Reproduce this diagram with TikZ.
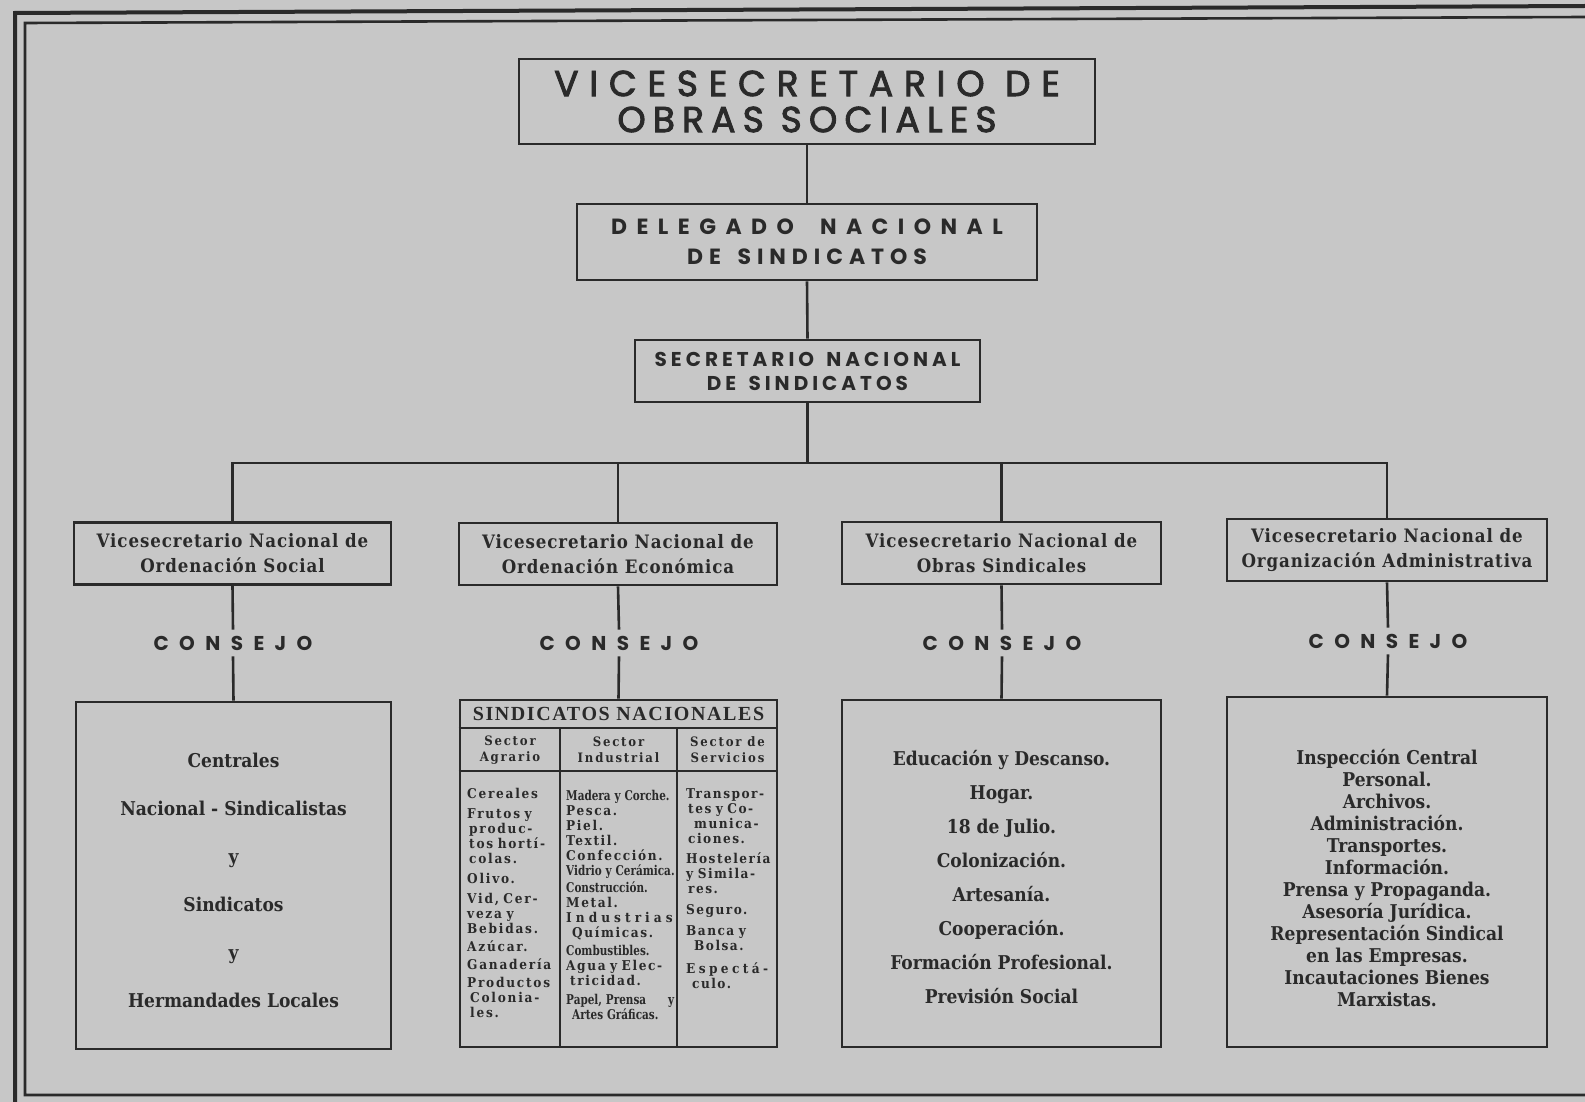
\documentclass[tikz,border=0pt]{standalone}
\usepackage{fontspec}
\usepackage{graphicx}
\newfontfamily\capfont{Poppins}
\newfontfamily\bodyfont{DejaVu Serif Condensed}
\newfontfamily\romfont{Liberation Serif}
\definecolor{paper}{RGB}{199,199,199}
\definecolor{ink}{RGB}{42,42,42}
\newcommand\spread[1]{\makebox[\linewidth][s]{#1}}
\newcommand\cond[1]{\scalebox{0.86}[1]{\addfontfeature{LetterSpace=0}#1}}
\tikzset{
  box/.style={draw=ink, line width=2.6pt, inner sep=0pt, text=ink, align=center},
  link/.style={draw=ink, line width=2.6pt},
  capA/.style={font={\capfont\addfontfeature{FakeBold=2.5}\fontsize{36}{36}\selectfont}},
  capB/.style={font={\capfont\bfseries\addfontfeature{LetterSpace=27}\fontsize{22}{30}\selectfont}},
  capC/.style={font={\capfont\bfseries\addfontfeature{LetterSpace=20}\fontsize{20}{24}\selectfont}},
  consejo/.style={text=ink, inner sep=6pt, font={\capfont\bfseries\addfontfeature{LetterSpace=52}\fontsize{20}{20}\selectfont}},
  lvl/.style={box, minimum height=62, font={\bodyfont\bfseries\addfontfeature{LetterSpace=5}\fontsize{18.5}{25}\selectfont}},
  bigtext/.style={text=ink, inner sep=0pt, align=center, font={\bodyfont\bfseries\fontsize{19}{#1}\selectfont}},
  head/.style={text=ink, inner sep=0pt, align=center, font={\bodyfont\bfseries\addfontfeature{LetterSpace=14}\fontsize{13}{16}\selectfont}},
  coltext/.style={text=ink, inner sep=0pt, align=left, anchor=north west, font={\bodyfont\bfseries\addfontfeature{LetterSpace=#1}\fontsize{13.5}{15}\selectfont}},
  rule/.style={draw=ink, line width=2.2pt}
}
\begin{document}
\begin{tikzpicture}[x=1pt, y=-1pt]
\fill[paper] (0,0) rectangle (1585,1102);
\useasboundingbox (0,0) rectangle (1585,1102);
% frame
\draw[ink, line width=4pt] (15,1102) -- (15,13) -- (1585,6);
\draw[ink, line width=2.6pt] (1585,1095) -- (25,1095) -- (25,23) -- (1585,17);

% top levels
\node[box, minimum width=576, minimum height=85, capA] (vice) at (807,101.5) {{\addfontfeature{LetterSpace=30}VICESECRETARIO DE}\\{\addfontfeature{LetterSpace=20}OBRAS SOCIALES}};
\node[box, minimum width=460, minimum height=76, capB] (deleg) at (807,242) {{\addfontfeature{LetterSpace=43}DELEGADO\hspace{12pt} NACIONAL}\\DE\hspace{6pt} SINDICATOS};
\node[box, minimum width=345, minimum height=62, capC] (secr) at (807.5,371) {SECRETARIO\hspace{4pt} NACIONAL\\DE\hspace{4pt} SINDICATOS};

\draw[link] (vice.south) -- (deleg.north);
\draw[link] (deleg.south) -- (secr.north);

% second level
\node[lvl, minimum width=317] (l1) at (232.5,553.5) {Vicesecretario Nacional de\\Ordenación Social};
\node[lvl, minimum width=318] (l2) at (618,554) {Vicesecretario Nacional de\\Ordenación Económica};
\node[lvl, minimum width=319] (l3) at (1001.5,553) {Vicesecretario Nacional de\\Obras Sindicales};
\node[lvl, minimum width=320] (l4) at (1387,550) {Vicesecretario Nacional de\\Organización Administrativa};

\coordinate (bus) at (807.5,463);
\draw[link] (secr.south) -- (bus);
\draw[link] (l1.north) |- (bus) -| (l4.north);
\draw[link] (l2.north) -- (l2.north |- bus);
\draw[link] (l3.north) -- (l3.north |- bus);

% consejo
\node[consejo] (c1) at (233,643) {CONSEJO};
\node[consejo] (c2) at (619,643) {CONSEJO};
\node[consejo] (c3) at (1002,643) {CONSEJO};
\node[consejo] (c4) at (1388,641) {CONSEJO};

% bottom boxes
\node[box, minimum width=315, minimum height=347] (b1) at (233.5,875.5) {};
\node[box, minimum width=317, minimum height=347] (b2) at (618.5,873.5) {};
\node[box, minimum width=319, minimum height=347] (b3) at (1001.5,873.5) {};
\node[box, minimum width=320, minimum height=350] (b4) at (1387,872) {};

\node[bigtext=48] (b1t) at ([yshift=-5pt]b1.center) {Centrales\\Nacional - Sindicalistas\\y\\Sindicatos\\y\\Hermandades Locales};
\node[bigtext=34] (b3t) at ([yshift=-4pt]b3.center) {Educación y Descanso.\\Hogar.\\18 de Julio.\\Colonización.\\Artesanía.\\Cooperación.\\Formación Profesional.\\Previsión Social};
\node[bigtext=22] (b4t) at ([yshift=-6pt]b4.center) {Inspección Central\\Personal.\\Archivos.\\Administración.\\Transportes.\\Información.\\Prensa y Propaganda.\\Asesoría Jurídica.\\Representación Sindical\\en las Empresas.\\Incautaciones Bienes\\Marxistas.};

\foreach \i in {1,...,4}{
  \draw[link] (l\i.south) -- (c\i.north);
  \draw[link] (c\i.south) -- (b\i.north);
}

% sindicatos nacionales table
\coordinate (t1) at (560,728);
\coordinate (t2) at (677,728);
\coordinate (t3) at (560,771);
\draw[rule] (b2.west |- t1) -- (b2.east |- t1);
\draw[rule] (b2.west |- t3) -- (b2.east |- t3);
\draw[rule] (t1) -- (t1 |- b2.south);
\draw[rule] (t2) -- (t2 |- b2.south);
\node[text=ink, inner sep=0pt, font={\romfont\bfseries\addfontfeature{LetterSpace=8}\fontsize{20}{20}\selectfont}] (sntitle) at (618.5,714) {SINDICATOS NACIONALES};
\node[head] (h1) at (510,750) {Sector\\Agrario};
\node[head] (h2) at (618.5,750) {Sector\\Industrial};
\node[head] (h3) at (727.5,750) {Sector de\\Servicios};

\node[coltext=13, text width=88] (col1) at (467,788) {Cereales\\[5pt]
\spread{Frutos y}\\
\hspace*{2pt}\spread{produc-}\\
\hspace*{2pt}tos hortí-\\
\hspace*{2pt}colas.\\[5pt]
Olivo.\\[5pt]
\spread{Vid, Cer-}\\
\spread{veza y}\\
Bebidas.\\[3pt]
Azúcar.\\[3pt]
Ganadería\\[3pt]
Productos\\
\hspace*{3pt}Colonia-\\
\hspace*{3pt}les.};

\node[coltext=12, text width=108] (col2) at (566,790) {\cond{Madera y Corche.}\\
Pesca.\\
Piel.\\
Textil.\\
Confección.\\
\cond{Vidrio y Cerámica.}\\[2pt]
\cond{Construcción.}\\
Metal.\\
{\addfontfeature{LetterSpace=30}Industrias}\\
\hspace*{6pt}Químicas.\\[3pt]
\cond{Combustibles.}\\
Agua y Elec-\\
\hspace*{4pt}tricidad.\\[4pt]
\cond{Papel, Prensa}\hfill\cond{y}\\
\hspace*{6pt}\cond{Artes Gráficas.}};

\node[coltext=11, text width=84] (col3) at (686,788) {\spread{Transpor-}\\
\hspace*{2pt}\spread{tes y Co-}\\
\hspace*{8pt}munica-\\
\hspace*{2pt}ciones.\\[5pt]
Hostelería\\
\spread{y Simila-}\\
\hspace*{2pt}res.\\[6pt]
Seguro.\\[6pt]
\spread{Banca y}\\
\hspace*{8pt}Bolsa.\\[8pt]
{\addfontfeature{LetterSpace=25}Espectá-}\\
\hspace*{6pt}culo.};
\end{tikzpicture}
\end{document}
